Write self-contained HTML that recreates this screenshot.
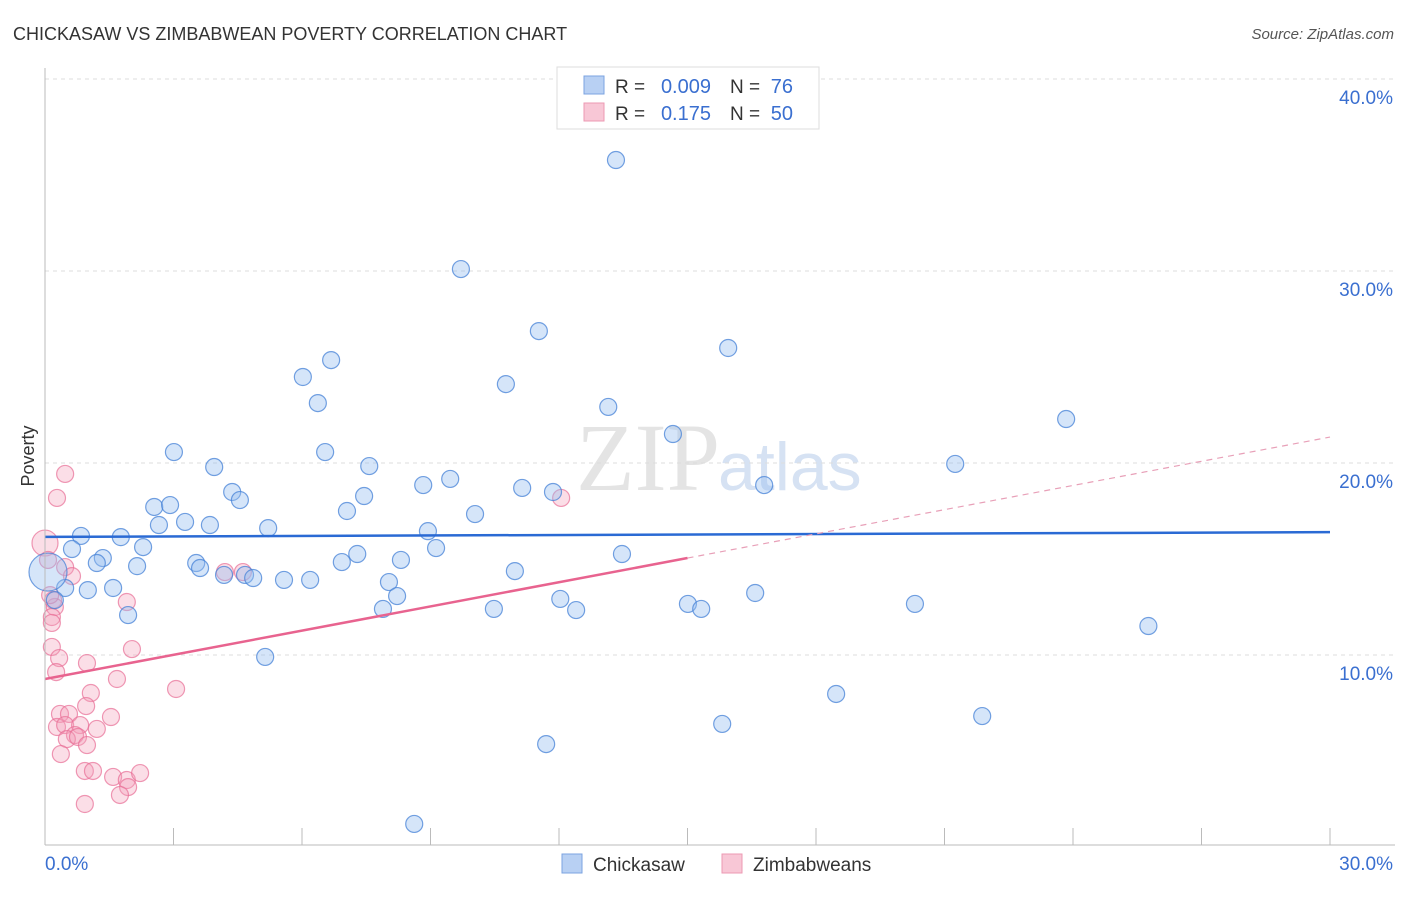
<!DOCTYPE html>
<html><head><meta charset="utf-8"><style>
body{margin:0;background:#fff;font-family:"Liberation Sans",sans-serif;}
</style></head><body>
<svg id="c" width="1406" height="892" xmlns="http://www.w3.org/2000/svg">
<text x="13" y="40" font-size="18" fill="#333">CHICKASAW VS ZIMBABWEAN POVERTY CORRELATION CHART</text>
<text x="1394" y="39" font-size="15" fill="#555" font-style="italic" text-anchor="end">Source: ZipAtlas.com</text>
<text x="34" y="456" font-size="18" fill="#333" transform="rotate(-90 34 456)" text-anchor="middle">Poverty</text>
<text x="720" y="490" font-size="96" fill="#e4e4e4" font-family="Liberation Serif,serif" text-anchor="end">ZIP</text>
<text x="718" y="490" font-size="68" fill="#d6e2f3">atlas</text>
<g id="grid"></g><g id="pts"></g><g id="lines"></g>
<line x1="45" y1="68" x2="45" y2="845" stroke="#bbb"/>
<line x1="45" y1="845" x2="1395" y2="845" stroke="#bbb"/>
<text x="45" y="870" font-size="19" fill="#3a6fd0">0.0%</text>
<text x="1393" y="870" font-size="19" fill="#3a6fd0" text-anchor="end">30.0%</text>
<g>
<rect x="557" y="67" width="262" height="62" fill="#fff" stroke="#ddd"/>
<rect x="584" y="76" width="20" height="18" fill="#b8d0f3" stroke="#7ba3e0"/>
<rect x="584" y="103" width="20" height="18" fill="#f8c7d6" stroke="#ec9ab3"/>
<text x="615" y="93" font-size="19" fill="#333">R =</text>
<text x="711" y="93" font-size="20" fill="#3a6fd0" text-anchor="end">0.009</text>
<text x="730" y="93" font-size="19" fill="#333">N =</text>
<text x="793" y="93" font-size="20" fill="#3a6fd0" text-anchor="end">76</text>
<text x="615" y="120" font-size="19" fill="#333">R =</text>
<text x="711" y="120" font-size="20" fill="#3a6fd0" text-anchor="end">0.175</text>
<text x="730" y="120" font-size="19" fill="#333">N =</text>
<text x="793" y="120" font-size="20" fill="#3a6fd0" text-anchor="end">50</text>
</g>
<g>
<rect x="562" y="854" width="20" height="19" fill="#b8d0f3" stroke="#7ba3e0"/>
<text x="593" y="871" font-size="19" fill="#333">Chickasaw</text>
<rect x="722" y="854" width="20" height="19" fill="#f8c7d6" stroke="#ec9ab3"/>
<text x="753" y="871" font-size="19" fill="#333">Zimbabweans</text>
</g>
</svg>
<script>
const yTicks=[10,20,30,40];
const xTickCount=10;
const blueX=[13.33,9.71,11.53,15.95,6.68,6.02,10.76,6.37,13.15,23.84,14.66,3.01,6.54,3.95,7.57,21.25,4.37,9.46,8.83,11.14,11.86,4.55,7.45,2.55,2.92,16.79,7.05,10.04,2.66,3.27,3.85,5.21,8.94,0.84,1.77,0.63,2.29,9.13,7.29,13.47,1.35,1.21,3.53,6.93,8.31,2.15,3.62,10.97,4.18,4.67,4.86,5.58,6.19,8.03,1.59,1.00,0.47,8.22,16.58,12.03,15.01,15.32,20.31,7.89,10.48,12.40,1.94,25.76,5.14,18.47,15.81,21.88,11.70,8.62,0.23,0.07];
const blueY=[35.78,30.10,26.87,25.99,25.36,24.48,24.11,23.12,22.92,22.29,21.51,20.57,20.57,19.79,19.84,19.95,18.49,19.17,18.85,18.70,18.49,18.07,18.28,17.71,17.81,18.85,17.50,17.34,16.77,16.93,16.77,16.61,16.45,16.20,16.14,15.52,15.62,15.57,15.26,15.26,15.05,14.79,14.79,14.84,14.95,14.63,14.53,14.37,14.17,14.17,14.01,13.91,13.91,13.80,13.49,13.38,13.49,13.07,13.23,12.92,12.66,12.40,12.66,12.40,12.40,12.34,12.08,11.51,9.90,7.97,6.41,6.82,5.36,1.20,12.86,14.32];
const pinkX=[0.47,0.28,0.0,0.47,0.63,0.19,0.23,0.16,0.16,1.91,0.16,0.33,0.26,0.98,2.03,1.68,3.06,1.07,0.96,0.35,0.56,1.54,0.28,0.47,0.82,1.21,0.70,0.51,0.77,0.98,0.37,0.93,1.12,1.59,1.91,2.22,1.94,1.75,0.93,12.05,4.62,4.20,0.12,0.07];
const pinkY=[19.43,18.18,15.83,14.58,14.11,12.86,12.50,11.98,11.67,12.76,10.42,9.84,9.11,9.58,10.31,8.75,8.23,8.02,7.34,6.93,6.93,6.77,6.25,6.35,6.35,6.15,5.83,5.62,5.73,5.31,4.84,3.96,3.96,3.65,3.49,3.85,3.12,2.71,2.24,18.18,14.32,14.32,13.12,14.95];
const blueTrend=[16.15,16.4];
const pinkTrend=[8.75,21.35];
const NS='http://www.w3.org/2000/svg';
const sx=v=>45+v/30*1285, sy=v=>847-v/10*192;
function mk(t,a,p){const e=document.createElementNS(NS,t);for(const k in a)e.setAttribute(k,a[k]);p.appendChild(e);return e;}
const grid=document.getElementById('grid');
yTicks.forEach(t=>{
 const l=mk('line',{x1:45,x2:1395,y1:sy(t),y2:sy(t),stroke:'#ddd','stroke-dasharray':'4,4'},grid);
 
 
 const tx=mk('text',{x:1393,y:sy(t)+25,'font-size':19,fill:'#3a6fd0','text-anchor':'end'},grid);
 tx.textContent=t.toFixed(1)+'%';
 
 
});
for(let i=0;i<=xTickCount;i++){
 const x=sx(i*30/xTickCount);
 const l=mk('line',{x1:x,x2:x,y1:828,y2:845,stroke:'#bbb'},grid);
 
 
}
const pts=document.getElementById('pts');
pinkX.forEach((v,i)=>{
 const c=mk('circle',{cx:sx(v),cy:sy(pinkY[i]),r:i===2?13:8.5,fill:'rgba(244,160,187,0.35)',stroke:'rgba(232,110,150,0.7)','stroke-width':1.2},pts);
 
 
});
blueX.forEach((v,i)=>{
 const c=mk('circle',{cx:sx(v),cy:sy(blueY[i]),r:i===blueX.length-1?19:8.5,fill:'rgba(150,190,240,0.4)',stroke:'rgba(70,130,215,0.75)','stroke-width':1.2},pts);
 
 
});
const lines=document.getElementById('lines');
const bl=mk('line',{x1:sx(0),y1:sy(blueTrend[0]),x2:sx(30),y2:sy(blueTrend[1]),stroke:'#2a6ad4','stroke-width':2.5},lines);


const pm=pinkTrend[0]+(pinkTrend[1]-pinkTrend[0])/2;
const pl=mk('line',{x1:sx(0),y1:sy(pinkTrend[0]),x2:sx(15),y2:sy(pm),stroke:'#e8638f','stroke-width':2.5},lines);


const pd=mk('line',{x1:sx(15),y1:sy(pm),x2:sx(30),y2:sy(pinkTrend[1]),stroke:'#e8a0b8','stroke-width':1.2,'stroke-dasharray':'6,5'},lines);


</script>
</body></html>
